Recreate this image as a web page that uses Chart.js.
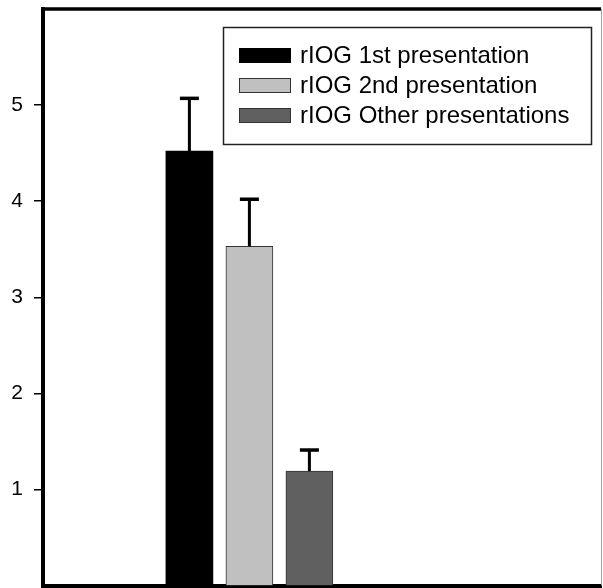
<!DOCTYPE html>
<html>
<head>
<meta charset="utf-8">
<script src="https://cdn.jsdelivr.net/npm/chart.js@4/dist/chart.umd.min.js"></script>
<style>
  html, body { margin: 0; padding: 0; background: #fff; }
  #wrap { width: 603px; height: 588px; }
</style>
</head>
<body>
<div id="wrap"><canvas id="barChart" width="603" height="588"></canvas></div>
<script>
/* Series names, one bar each */
const SERIES = ['rIOG 1st presentation', 'rIOG 2nd presentation', 'rIOG Other presentations'];
const MEANS  = [4.52, 3.53, 1.19];
const ERRORS = [0.55, 0.49, 0.22];   // upper error bar only
const SLOTS  = [1, 2, 3];            // bar positions on the x scale
const Y_TICKS = [1, 2, 3, 4, 5];

const FILLS   = ['#000000', '#c0c0c0', '#606060'];
const BORDERS = ['#000000', '#333333', '#333333'];

/* Upward error bars with a cap */
const errorBars = {
  id: 'errorBars',
  afterDatasetsDraw(chart) {
    const { ctx, scales: { x, y } } = chart;
    ctx.save();
    ctx.strokeStyle = '#000';
    SLOTS.forEach((s, i) => {
      const px = x.getPixelForValue(s);
      const y0 = y.getPixelForValue(MEANS[i]);
      const y1 = y.getPixelForValue(MEANS[i] + ERRORS[i]);
      ctx.lineWidth = 3;
      ctx.beginPath();
      ctx.moveTo(px, y0);
      ctx.lineTo(px, y1);
      ctx.stroke();
      ctx.lineWidth = 3.5;
      ctx.beginPath();
      ctx.moveTo(px - 9.5, y1);
      ctx.lineTo(px + 9.5, y1);
      ctx.stroke();
    });
    ctx.restore();
  }
};

/* Frame pieces the axes don't draw, plus the boxed legend inside the plot */
const frameAndLegend = {
  id: 'frameAndLegend',
  afterDraw(chart) {
    const { ctx, chartArea: a } = chart;
    ctx.save();
    // top border
    ctx.strokeStyle = '#000';
    ctx.lineWidth = 3.5;
    ctx.beginPath();
    ctx.moveTo(a.left - 2, a.top);
    ctx.lineTo(a.right, a.top);
    ctx.stroke();
    // faint right edge
    ctx.strokeStyle = '#a0a0a0';
    ctx.lineWidth = 1;
    ctx.beginPath();
    ctx.moveTo(601.5, a.top);
    ctx.lineTo(601.5, a.bottom);
    ctx.stroke();

    // legend box
    ctx.strokeStyle = '#222';
    ctx.lineWidth = 1.5;
    ctx.strokeRect(223.5, 27.5, 368, 117);
    ctx.font = '24px Arial, "Liberation Sans", sans-serif';
    ctx.textBaseline = 'middle';
    SERIES.forEach((name, i) => {
      const cy = 55.5 + i * 30;
      ctx.fillStyle = FILLS[i];
      ctx.fillRect(239, cy - 7.5, 52, 15);
      ctx.strokeStyle = BORDERS[i];
      ctx.lineWidth = 1;
      ctx.strokeRect(239.5, cy - 7, 51, 14);
      ctx.fillStyle = '#000';
      ctx.fillText(name, 300, cy + 1);
    });
    ctx.restore();
  }
};

new Chart(document.getElementById('barChart'), {
  type: 'bar',
  data: {
    datasets: SERIES.map((name, i) => ({
      label: name,
      data: [{ x: SLOTS[i], y: MEANS[i] }],
      backgroundColor: FILLS[i],
      borderColor: BORDERS[i],
      borderWidth: i === 0 ? 0 : 1,
      barThickness: 47,
      grouped: false,
    })),
  },
  options: {
    responsive: false,
    animation: false,
    layout: { padding: { top: 9, right: 2, bottom: 2.5, left: 0 } },
    plugins: {
      legend:  { display: false },
      tooltip: { enabled: false },
    },
    scales: {
      x: {
        type: 'linear',
        offset: false,
        min: -1.44,
        max: 7.86,
        afterFit: s => { s.height = 0; s.paddingLeft = 0; s.paddingRight = 0; },
        ticks:  { display: false },
        grid:   { display: false },
        border: { color: '#000', width: 4 },
      },
      y: {
        min: 0,
        max: 6,
        afterFit: s => { s.width = 43; s.paddingTop = 0; s.paddingBottom = 0; },
        afterBuildTicks: s => { s.ticks = Y_TICKS.map(v => ({ value: v })); },
        ticks: {
          color: '#000',
          font: { family: 'Arial, "Liberation Sans", sans-serif', size: 21 },
          padding: 11,
        },
        grid: {
          drawOnChartArea: false,
          drawTicks: true,
          tickLength: 9,
          color: '#000',
          lineWidth: 1.5,
        },
        border: { color: '#000', width: 4 },
      },
    },
  },
  plugins: [errorBars, frameAndLegend],
});
</script>
</body>
</html>
